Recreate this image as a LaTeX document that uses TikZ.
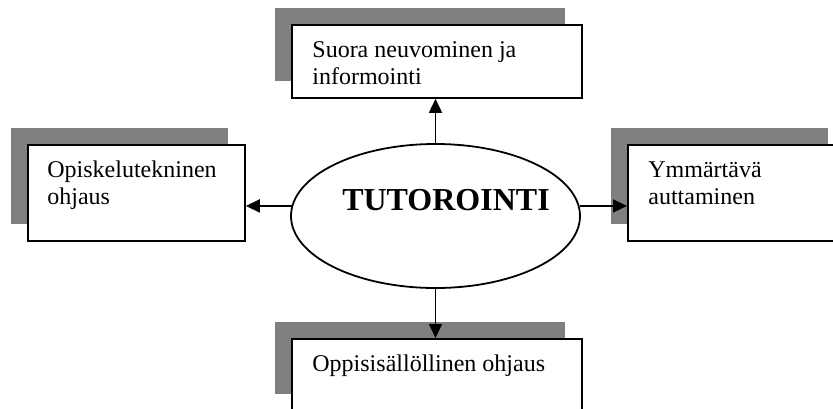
\documentclass[tikz,border=0pt]{standalone}
\usepackage{fontspec}
\setmainfont{Liberation Serif}
\usetikzlibrary{shapes.geometric,arrows.meta}
\begin{document}
\begin{tikzpicture}[x=0.5pt,y=-0.5pt,
  shadowbox/.style={rectangle,fill=black!50,draw=none,inner sep=0pt,anchor=north west},
  whitebox/.style={rectangle,fill=white,draw=black,line width=0.9pt,inner sep=0pt,anchor=north west},
  label/.style={anchor=base west,inner sep=0pt,font=\fontsize{12}{13.65}\selectfont},
  conn/.style={line width=0.8pt,-{Triangle[length=7pt,width=6.5pt]}}]
\clip (0,0) rectangle (833,408);
% shadows
\node[shadowbox,minimum width=145pt,minimum height=36.5pt] (stop) at (275,8) {};
\node[shadowbox,minimum width=108.5pt,minimum height=48pt] (sleft) at (11,128) {};
\node[shadowbox,minimum width=108.5pt,minimum height=48pt] (sright) at (611,128) {};
\node[shadowbox,minimum width=145pt,minimum height=36pt] (sbot) at (275,322) {};
% boxes
\node[whitebox,minimum width=145pt,minimum height=36.5pt] (top) at (291,24) {};
\node[whitebox,minimum width=108.5pt,minimum height=48pt] (left) at (27,144) {};
\node[whitebox,minimum width=108.5pt,minimum height=48pt] (right) at (627,144) {};
\node[whitebox,minimum width=145pt,minimum height=36pt] (bot) at (291,338) {};
% texts
\node[label] (t1) at (312,57) {Suora neuvominen ja};
\node[label] (t2) at (312,84) {informointi};
\node[label] (l1) at (47,177) {Opiskelutekninen};
\node[label] (l2) at (47,204) {ohjaus};
\node[label] (r1) at (648,177) {Ymmärtävä};
\node[label] (r2) at (648,204) {auttaminen};
\node[label] (b1) at (312,371) {Oppisisällöllinen ohjaus};
% ellipse
\node[ellipse,draw=black,fill=white,line width=0.9pt,inner sep=0pt,
      minimum width=144.5pt,minimum height=72pt] (ell) at (435.5,216) {};
\node[anchor=base,inner sep=0pt,font=\fontsize{16}{19}\selectfont\bfseries] (tut) at (446,210) {TUTOROINTI};
% connectors
\draw[conn] (ell.north) -- (ell.north |- top.south);
\draw[conn] (ell.south) -- (ell.south |- bot.north);
\draw[conn] (ell.176) -- (ell.176 -| left.east);
\draw[conn] (ell.4) -- (ell.4 -| right.west);
\end{tikzpicture}
\end{document}
